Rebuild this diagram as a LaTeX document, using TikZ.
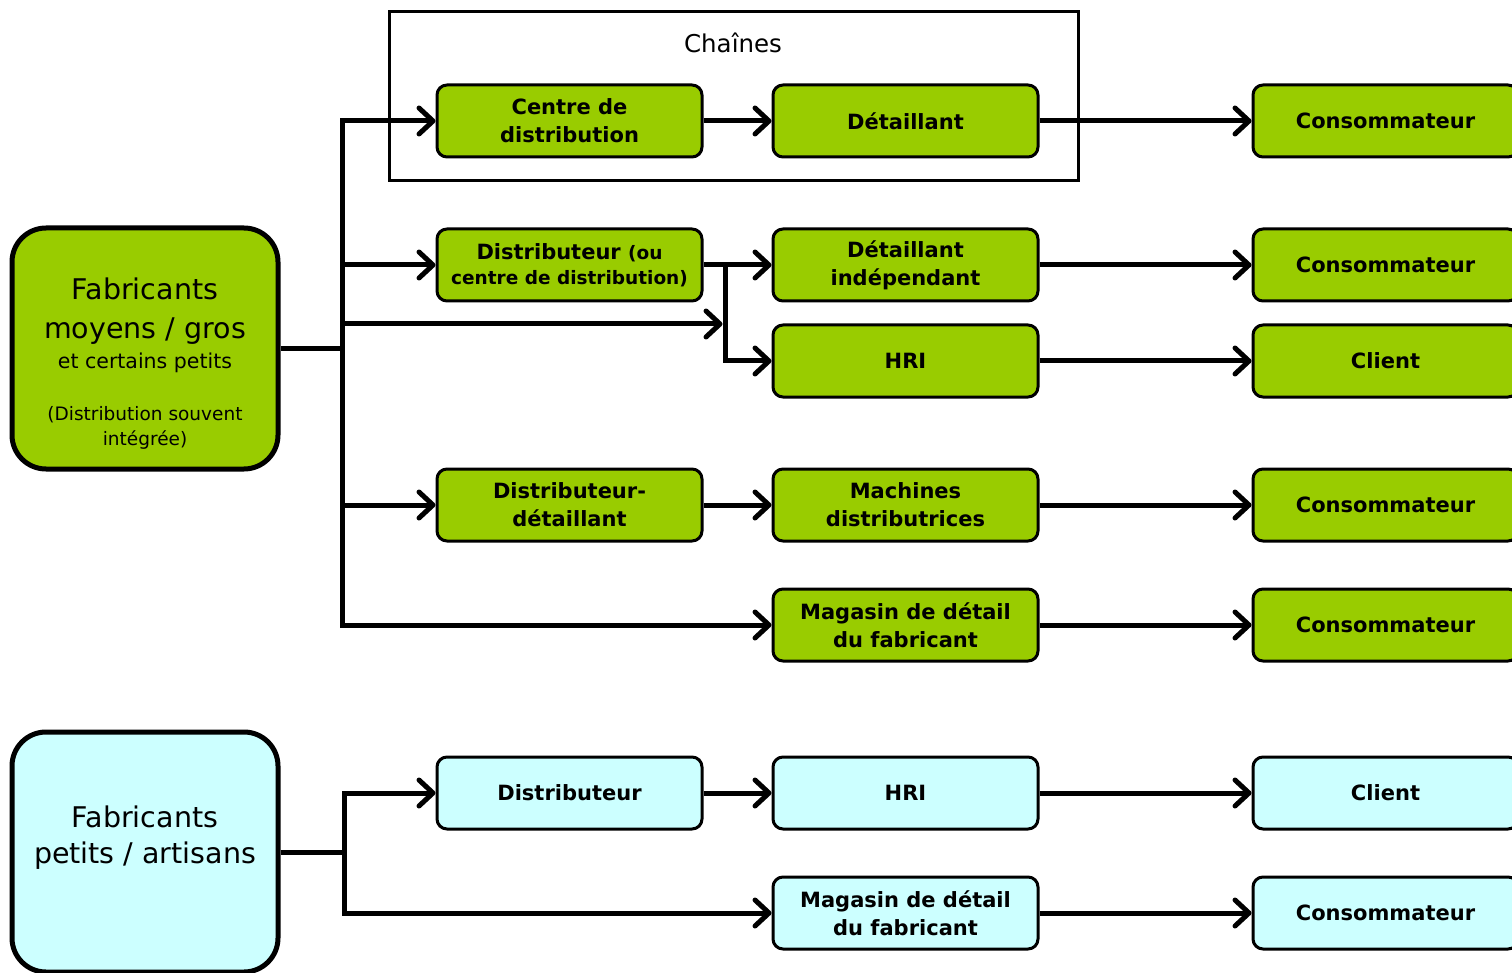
\documentclass[tikz,border=0pt]{standalone}
\usepackage{fontspec}
\setmainfont{DejaVu Sans}
\usetikzlibrary{arrows.meta}
\definecolor{leaf}{HTML}{99CC00}
\definecolor{sky}{HTML}{CCFFFF}
\tikzset{
  stepbox/.style={draw, line width=3pt, rounded corners=10pt, minimum width=265pt, minimum height=72pt,
    inner sep=0pt, align=center, font=\fontsize{21}{28}\selectfont\bfseries},
  bigbox/.style={draw, line width=5pt, rounded corners=34pt, minimum width=266pt, inner sep=0pt},
  conn/.style={line width=5pt, line join=miter, -{Straight Barb[length=14pt,width=26pt,round]}},
  plain/.style={line width=5pt, line join=miter},
  bigtxt/.style={anchor=base, inner sep=0pt, font=\fontsize{28.5}{34}\selectfont},
  smalltxt/.style={anchor=base, inner sep=0pt, font=\fontsize{20.5}{24}\selectfont},
  notetxt/.style={anchor=base, inner sep=0pt, font=\fontsize{18.5}{22}\selectfont}
}
\begin{document}
\begin{tikzpicture}[x=1pt,y=-1pt]
\useasboundingbox (0,0) rectangle (1512,973);

% frame "Chaînes"
\node[draw, line width=3pt, minimum width=689pt, minimum height=169pt, inner sep=0pt] (chaines) at (733.5,96.5) {};
\node[anchor=base, inner sep=0pt, font=\fontsize{24.5}{28}\selectfont] (chainestitle) at (733,53) {Chaînes};

% big boxes
\node[bigbox, fill=leaf, minimum height=241pt] (fab1) at (145,348.5) {};
\node[bigtxt] (f1a) at (145,300) {Fabricants};
\node[bigtxt] (f1b) at (145,338) {moyens / gros};
\node[smalltxt] (f1c) at (145,368) {et certains petits};
\node[notetxt] (f1d) at (145,420) {(Distribution souvent};
\node[notetxt] (f1e) at (145,445) {intégrée)};

\node[bigbox, fill=sky, minimum height=240pt] (fab2) at (145,852) {};
\node[bigtxt] (f2a) at (145,827) {Fabricants};
\node[bigtxt] (f2b) at (145,863) {petits / artisans};

% column 1
\node[stepbox, fill=leaf] (cd) at (569.5,121) {Centre de\\distribution};
\node[stepbox, fill=leaf] (dist) at (569.5,265) {Distributeur {\fontsize{18.5}{28}\selectfont(ou}\\[-3pt]{\fontsize{18.5}{24}\selectfont centre de distribution)}};
\node[stepbox, fill=leaf] (distdet) at (569.5,505) {Distributeur-\\détaillant};
\node[stepbox, fill=sky] (dist2) at (569.5,793) {Distributeur};

% column 2
\node[stepbox, fill=leaf] (det) at (905.5,121) {Détaillant};
\node[stepbox, fill=leaf] (detind) at (905.5,265) {Détaillant\\indépendant};
\node[stepbox, fill=leaf] (hri) at (905.5,361) {HRI};
\node[stepbox, fill=leaf] (mach) at (905.5,505) {Machines\\distributrices};
\node[stepbox, fill=leaf] (mag) at (905.5,625) {Magasin de détail\\du fabricant};
\node[stepbox, fill=sky] (hri2) at (905.5,793) {HRI};
\node[stepbox, fill=sky] (mag2) at (905.5,913) {Magasin de détail\\du fabricant};

% column 3
\node[stepbox, fill=leaf] (cons1) at (1385.5,121) {Consommateur};
\node[stepbox, fill=leaf] (cons2) at (1385.5,265) {Consommateur};
\node[stepbox, fill=leaf] (cli1) at (1385.5,361) {Client};
\node[stepbox, fill=leaf] (cons3) at (1385.5,505) {Consommateur};
\node[stepbox, fill=leaf] (cons4) at (1385.5,625) {Consommateur};
\node[stepbox, fill=sky] (cli2) at (1385.5,793) {Client};
\node[stepbox, fill=sky] (cons5) at (1385.5,913) {Consommateur};

% trunk coordinates
\coordinate (tx) at (342,0);
\coordinate (bx) at (344,0);
\coordinate (jx) at (725,0);
\coordinate (jn) at (722.5,324);
\coordinate (t3) at (342,324);

% upper connectors
\draw[plain] (fab1.east) -- (fab1.east -| tx);
\draw[conn] (fab1.east -| tx) -- (cd.west -| tx) -- (cd.west);
\draw[conn] (fab1.east -| tx) -- (mag.west -| tx) -- (mag.west);
\draw[conn] (dist.west -| tx) -- (dist.west);
\draw[conn] (distdet.west -| tx) -- (distdet.west);
\draw[conn] (t3) -- (jn);

\draw[conn] (cd) -- (det);
\draw[conn] (det) -- (cons1);
\draw[conn] (dist) -- (detind);
\draw[conn] (dist.east -| jx) -- (hri.west -| jx) -- (hri.west);
\draw[conn] (detind) -- (cons2);
\draw[conn] (hri) -- (cli1);
\draw[conn] (distdet) -- (mach);
\draw[conn] (mach) -- (cons3);
\draw[conn] (mag) -- (cons4);

% lower connectors
\draw[plain] (fab2.east) -- (fab2.east -| bx);
\draw[conn] (fab2.east -| bx) -- (dist2.west -| bx) -- (dist2.west);
\draw[conn] (fab2.east -| bx) -- (mag2.west -| bx) -- (mag2.west);
\draw[conn] (dist2) -- (hri2);
\draw[conn] (hri2) -- (cli2);
\draw[conn] (mag2) -- (cons5);
\end{tikzpicture}
\end{document}
